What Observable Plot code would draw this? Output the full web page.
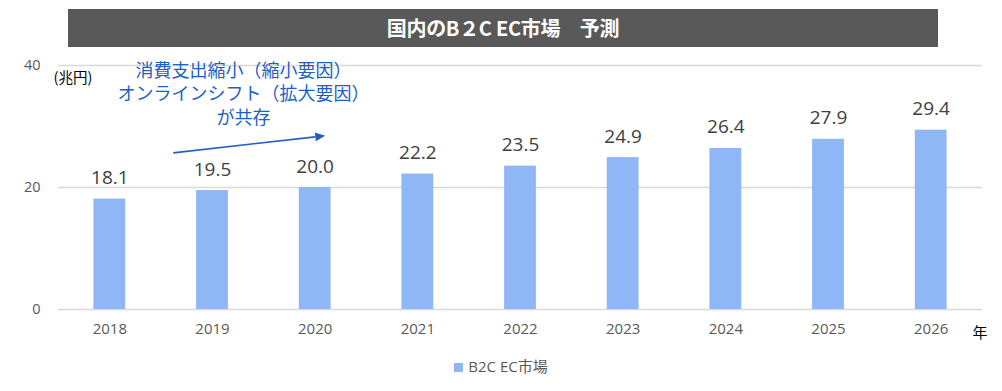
<!DOCTYPE html>
<html><head><meta charset="utf-8">
<script src="https://cdn.jsdelivr.net/npm/d3@7"></script>
<script src="https://cdn.jsdelivr.net/npm/@observablehq/plot@0.6"></script>
<style>
body{margin:0;background:#fff;font-family:"Noto Sans CJK JP","Noto Sans",sans-serif;}
#wrap{position:relative;width:1002px;height:391px;}
#title{position:absolute;left:68px;top:9px;width:870px;height:38px;background:#595959;color:#fff;font-weight:bold;font-size:20px;line-height:38px;text-align:center;letter-spacing:-0.3px;}
#chart{position:absolute;left:0;top:50px;}
#legend{position:absolute;left:0;top:355px;width:1002px;text-align:center;font-size:15px;color:#595959;font-family:"Open Sans","Noto Sans CJK JP",sans-serif;}
#legend span.sw{display:inline-block;width:9px;height:9px;background:#8FB6F5;margin-right:5px;vertical-align:0px;}
</style></head>
<body><div id="wrap">
<div id="title">国内のB２C EC市場　予測</div>
<div id="chart"></div>
<div id="legend"><span class="sw"></span>B2C EC市場</div>
</div>
<script>
const years = ["2018","2019","2020","2021","2022","2023","2024","2025","2026"];
const values = [18.1,19.5,20.0,22.2,23.5,24.9,26.4,27.9,29.4];
const yTicks = [0,20,40];
const unitLabel = "(兆円)";
const xUnit = "年";
const noteLines = ["消費支出縮小（縮小要因）","オンラインシフト（拡大要因）","が共存"];
const seriesName = "B2C EC市場";
// annotation arrow: anchored on year bands (offset in band steps) and values
const arrowFrom = {year: "2019", offset: -0.377, value: 25.6};
const arrowTo = {year: "2020", offset: 0.103, value: 28.4};

const data = years.map((y,i)=>({year:y, value:values[i]}));
const barColor = "#8FB6F5";
const noteColor = "#1F5FC4";
const numFont = '"Open Sans","Noto Sans",sans-serif';
const NS = "http://www.w3.org/2000/svg";

function arrowMark(index, scales, values, dims, context) {
  const bw = scales.x.bandwidth ? scales.x.bandwidth() : 0;
  const step = scales.x.step ? scales.x.step() : 0;
  const px = a => scales.x(a.year) + bw/2 + a.offset*step;
  const x1 = px(arrowFrom), y1 = scales.y(arrowFrom.value);
  const x2 = px(arrowTo), y2 = scales.y(arrowTo.value);
  const g = document.createElementNS(NS, "g");
  const ang = Math.atan2(y2-y1, x2-x1);
  const hl = 10, hw = 4.5;
  const bx = x2 - hl*Math.cos(ang), by = y2 - hl*Math.sin(ang);
  const line = document.createElementNS(NS, "line");
  line.setAttribute("x1", x1); line.setAttribute("y1", y1);
  line.setAttribute("x2", bx); line.setAttribute("y2", by);
  line.setAttribute("stroke", noteColor); line.setAttribute("stroke-width", 1.6);
  g.appendChild(line);
  const p = document.createElementNS(NS, "path");
  const nx = -Math.sin(ang), ny = Math.cos(ang);
  p.setAttribute("d", `M${x2},${y2}L${bx+nx*hw},${by+ny*hw}L${bx-nx*hw},${by-ny*hw}Z`);
  p.setAttribute("fill", noteColor);
  g.appendChild(p);
  return g;
}

const plot = Plot.plot({
  width: 1002,
  height: 300,
  marginTop: 15,
  marginBottom: 41,
  marginLeft: 58,
  marginRight: 20,
  style: {fontFamily: numFont, fontSize: "15px", color: "#595959", background: "transparent"},
  x: {domain: years, paddingInner: 0.69, paddingOuter: 0.345, round: false, label: null},
  y: {domain: [0,40], label: null},
  marks: [
    Plot.ruleY(yTicks, {stroke: "#d9d9d9", strokeWidth: 1.3}),
    Plot.barY(data, {x: "year", y: "value", fill: barColor}),
    Plot.text(data, {x: "year", y: "value", text: d => d.value.toFixed(1), lineAnchor: "bottom", dy: -15, fontSize: 19, fill: "#404040", fontFamily: numFont}),
    Plot.axisY(yTicks, {tickSize: 0, tickPadding: 18, fontSize: 14.5, fill: "#595959", label: null, fontFamily: numFont}),
    Plot.axisX({tickSize: 0, tickPadding: 14, fontSize: 15, fill: "#595959", label: null, fontFamily: numFont}),
    Plot.text([xUnit], {frameAnchor: "bottom-right", dx: 5, dy: 28, fontSize: 15, fill: "#000", fontFamily: '"Noto Sans CJK JP",sans-serif'}),
    Plot.text([unitLabel], {frameAnchor: "top-left", dx: -5, dy: 7, textAnchor: "start", fontSize: 14.5, fill: "#000", fontFamily: '"Noto Sans CJK JP",sans-serif'}),
    Plot.text([noteLines.join("\n")], {x: () => "2019", y: () => 40, dx: 31, dy: -6, lineAnchor: "top", lineHeight: 1.33, fontSize: 18, fill: noteColor, fontFamily: '"Noto Sans CJK JP",sans-serif'}),
    arrowMark
  ]
});
document.getElementById("chart").appendChild(plot);
</script>
</body></html>
